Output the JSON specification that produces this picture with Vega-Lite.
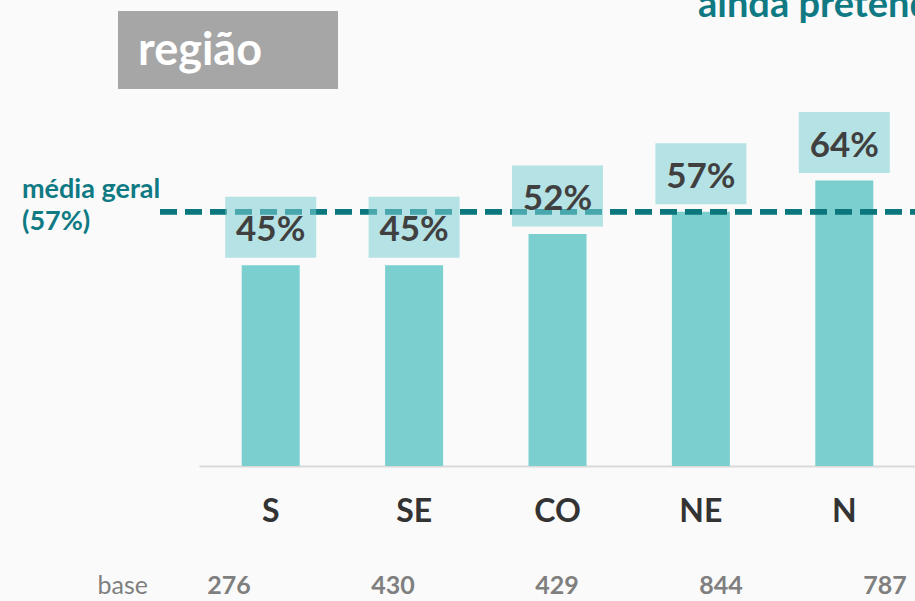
{
  "$schema": "https://vega.github.io/schema/vega-lite/v6.json",
  "width": 717,
  "height": 446,
  "autosize": "none",
  "padding": {"left": 199, "top": 20, "right": 0, "bottom": 135},
  "background": "#fafafa",
  "config": {"view": {"stroke": null}, "font": "Lato"},
  "data": {
    "values": [
      {"region": "S", "pct": 45, "label": "45%", "base": "276"},
      {"region": "SE", "pct": 45, "label": "45%", "base": "430"},
      {"region": "CO", "pct": 52, "label": "52%", "base": "429"},
      {"region": "NE", "pct": 57, "label": "57%", "base": "844"},
      {"region": "N", "pct": 64, "label": "64%", "base": "787"}
    ]
  },
  "layer": [
    {
      "layer": [
        {
          "mark": {"type": "bar", "width": 58, "color": "#7bcfcf"},
          "encoding": {
            "x": {
              "field": "region", "type": "nominal", "sort": null,
              "scale": {"paddingInner": 0, "paddingOuter": 0},
              "axis": {
                "title": null, "labelAngle": 0, "ticks": false, "tickSize": 0,
                "labelPadding": 55, "labelBaseline": "alphabetic",
                "labelFont": "Lato", "labelFontWeight": "bold", "labelFontSize": 32,
                "labelColor": "#333333", "domainColor": "#d9d9d9", "domainWidth": 2
              }
            },
            "y": {"field": "pct", "type": "quantitative", "scale": {"domain": [0, 100]}, "axis": null}
          }
        },
        {
          "mark": {"type": "rule", "color": "#0b777d", "strokeWidth": 5, "strokeDash": [17, 8]},
          "encoding": {"y": {"datum": 57}, "x": {"value": -39}, "x2": {"value": 717}}
        },
        {
          "mark": {
            "type": "point", "shape": "M-1,-0.67L1,-0.67L1,0.67L-1,0.67Z", "size": 8281,
            "filled": true, "color": "#7ccfd4", "opacity": 0.55, "strokeWidth": 0, "yOffset": -38
          },
          "encoding": {
            "x": {"field": "region", "type": "nominal", "sort": null},
            "y": {"field": "pct", "type": "quantitative"}
          }
        },
        {
          "mark": {
            "type": "text", "font": "Lato", "fontWeight": "bold", "fontSize": 35,
            "color": "#404040", "baseline": "alphabetic", "yOffset": -24
          },
          "encoding": {
            "x": {"field": "region", "type": "nominal", "sort": null},
            "y": {"field": "pct", "type": "quantitative"},
            "text": {"field": "label"}
          }
        }
      ]
    },
    {
      "mark": {
        "type": "text", "font": "Lato", "fontWeight": "bold", "fontSize": 25,
        "color": "#7f7f7f", "baseline": "alphabetic"
      },
      "encoding": {
        "x": {
          "field": "region", "type": "nominal", "sort": null,
          "scale": {"type": "point", "range": [30, 686], "padding": 0}, "axis": null
        },
        "y": {"value": 574},
        "text": {"field": "base"}
      }
    },
    {
      "data": {"values": [{"t": "base"}]},
      "mark": {
        "type": "text", "font": "Lato", "fontSize": 25, "color": "#7f7f7f",
        "align": "right", "baseline": "alphabetic"
      },
      "encoding": {"x": {"value": -51}, "y": {"value": 574}, "text": {"field": "t"}}
    },
    {
      "data": {"values": [{}]},
      "mark": {"type": "rect", "color": "#a6a6a6"},
      "encoding": {"x": {"value": -81}, "x2": {"value": 139}, "y": {"value": -9}, "y2": {"value": 69}}
    },
    {
      "data": {"values": [{"t": "região"}]},
      "mark": {
        "type": "text", "font": "Lato", "fontWeight": "bold", "fontSize": 45,
        "color": "#ffffff", "align": "left", "baseline": "alphabetic"
      },
      "encoding": {"x": {"value": -61}, "y": {"value": 45}, "text": {"field": "t"}}
    },
    {
      "data": {"values": [{"t": "ainda pretendem"}]},
      "mark": {
        "type": "text", "font": "Lato", "fontWeight": "bold", "fontSize": 38,
        "color": "#0f7a84", "align": "left", "baseline": "alphabetic"
      },
      "encoding": {"x": {"value": 499}, "y": {"value": -3}, "text": {"field": "t"}}
    },
    {
      "data": {"values": [{}]},
      "mark": {
        "type": "text", "font": "Lato", "fontWeight": "bold", "fontSize": 27,
        "color": "#0f7a84", "align": "left", "baseline": "alphabetic", "lineHeight": 32,
        "text": ["média geral", "(57%)"]
      },
      "encoding": {"x": {"value": -177}, "y": {"value": 178}}
    }
  ],
  "resolve": {"scale": {"x": "independent"}}
}
